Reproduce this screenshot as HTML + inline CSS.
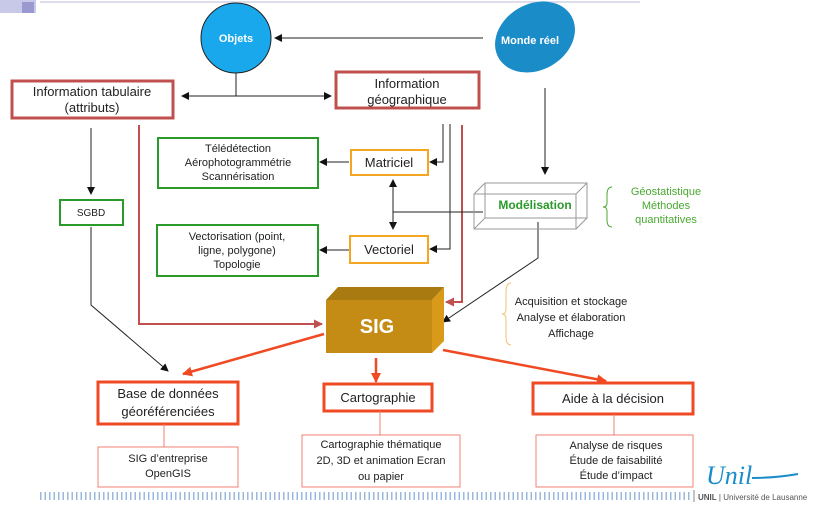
<!DOCTYPE html>
<html><head><meta charset="utf-8"><style>
body{margin:0;background:#fff}
svg{display:block;font-family:"Liberation Sans",sans-serif}
</style></head><body>
<svg width="828" height="512" viewBox="0 0 828 512" xmlns="http://www.w3.org/2000/svg">
<defs>
<marker id="ab" markerWidth="8" markerHeight="8" refX="7" refY="4" orient="auto" markerUnits="userSpaceOnUse"><path d="M0,0 L8,4 L0,8 z" fill="#111"/></marker>
<marker id="ar" markerWidth="9" markerHeight="9" refX="8" refY="4.5" orient="auto" markerUnits="userSpaceOnUse"><path d="M0,0 L9,4.5 L0,9 z" fill="#c0504d"/></marker>
<marker id="ao" markerWidth="10" markerHeight="10" refX="9" refY="5" orient="auto" markerUnits="userSpaceOnUse"><path d="M0,0 L10,5 L0,10 z" fill="#f04a24"/></marker>
</defs>
<rect x="0" y="0" width="36" height="13" fill="#c8c8e8"/><rect x="22" y="2" width="12" height="11" fill="#9a9ad0"/>
<line x1="40" y1="2" x2="640" y2="2" stroke="#dde" stroke-width="2"/>
<circle cx="236" cy="38" r="35" fill="#1aa8ec" stroke="#222" stroke-width="1"/>
<text x="236" y="42" font-size="11" font-weight="bold" fill="#fff" text-anchor="middle">Objets</text>
<ellipse cx="535" cy="37" rx="42" ry="33" fill="#1a8cc8" transform="rotate(-30 535 37)"/>
<text x="530" y="44" font-size="11" font-weight="bold" fill="#fff" text-anchor="middle">Monde réel</text>
<line x1="483" y1="38" x2="275" y2="38" stroke="#222" marker-end="url(#ab)"/>
<line x1="236" y1="73" x2="236" y2="96" stroke="#222"/>
<line x1="236" y1="96" x2="182" y2="96" stroke="#222" marker-end="url(#ab)"/>
<line x1="236" y1="96" x2="331" y2="96" stroke="#222" marker-end="url(#ab)"/>
<line x1="545" y1="88" x2="545" y2="174" stroke="#222" marker-end="url(#ab)"/>
<rect x="12" y="81" width="161" height="37" fill="#fff" stroke="#c0504d" stroke-width="3"/>
<text x="92" y="96" font-size="13" text-anchor="middle" fill="#222">Information tabulaire</text>
<text x="92" y="112" font-size="13" text-anchor="middle" fill="#222">(attributs)</text>
<rect x="336" y="72" width="143" height="36" fill="#fff" stroke="#c0504d" stroke-width="3"/>
<text x="407" y="88" font-size="13" text-anchor="middle" fill="#222">Information</text>
<text x="407" y="104" font-size="13" text-anchor="middle" fill="#222">géographique</text>
<polyline points="139,125 139,324 322,324" fill="none" stroke="#c0504d" stroke-width="2" marker-end="url(#ar)"/>
<polyline points="462,125 462,302 446,302" fill="none" stroke="#c0504d" stroke-width="2" marker-end="url(#ar)"/>
<polyline points="443,124 443,162 430,162" fill="none" stroke="#222" marker-end="url(#ab)"/>
<polyline points="450,124 450,249 430,249" fill="none" stroke="#222" marker-end="url(#ab)"/>
<line x1="91" y1="128" x2="91" y2="194" stroke="#222" marker-end="url(#ab)"/>
<polyline points="91,227 91,305 168,371" fill="none" stroke="#222" marker-end="url(#ab)"/>
<line x1="393" y1="183" x2="393" y2="229" stroke="#222" marker-end="url(#ab)"/>
<line x1="393" y1="229" x2="393" y2="180" stroke="#222" marker-end="url(#ab)"/>
<line x1="393" y1="212" x2="483" y2="212" stroke="#222"/>
<polyline points="538,222 538,258 443,322" fill="none" stroke="#222" marker-end="url(#ab)"/>
<rect x="158" y="138" width="160" height="50" fill="#fff" stroke="#2a9a2a" stroke-width="2"/>
<text x="238" y="152" font-size="11" text-anchor="middle" fill="#222">Télédétection</text>
<text x="238" y="166" font-size="11" text-anchor="middle" fill="#222">Aérophotogrammétrie</text>
<text x="238" y="180" font-size="11" text-anchor="middle" fill="#222">Scannérisation</text>
<rect x="157" y="225" width="161" height="51" fill="#fff" stroke="#2a9a2a" stroke-width="2"/>
<text x="237" y="240" font-size="11" text-anchor="middle" fill="#222">Vectorisation (point,</text>
<text x="237" y="254" font-size="11" text-anchor="middle" fill="#222">ligne, polygone)</text>
<text x="237" y="268" font-size="11" text-anchor="middle" fill="#222">Topologie</text>
<rect x="60" y="200" width="63" height="25" fill="#fff" stroke="#2a9a2a" stroke-width="2"/>
<text x="91" y="216" font-size="10" text-anchor="middle" fill="#222">SGBD</text>
<rect x="351" y="150" width="77" height="25" fill="#fff" stroke="#f4a622" stroke-width="2"/>
<text x="389" y="167" font-size="13" text-anchor="middle" fill="#222">Matriciel</text>
<rect x="350" y="236" width="78" height="27" fill="#fff" stroke="#f4a622" stroke-width="2"/>
<text x="389" y="254" font-size="13" text-anchor="middle" fill="#222">Vectoriel</text>
<line x1="349" y1="162" x2="320" y2="162" stroke="#222" marker-end="url(#ab)"/>
<line x1="349" y1="250" x2="320" y2="250" stroke="#222" marker-end="url(#ab)"/>
<g fill="none" stroke="#999" stroke-width="1">
<rect x="474" y="194" width="102" height="35"/>
<polyline points="474,194 485,183 587,183 587,218 576,229"/>
<line x1="576" y1="194" x2="587" y2="183"/>
<line x1="485" y1="183" x2="485" y2="218"/><line x1="474" y1="229" x2="485" y2="218"/><line x1="485" y1="218" x2="587" y2="218"/>
</g>
<text x="535" y="209" font-size="12" font-weight="bold" text-anchor="middle" fill="#2a9a2a">Modélisation</text>
<path d="M612,187 Q607,187 607,195 L607,203 Q607,207 603,207 Q607,207 607,211 L607,220 Q607,227 612,227" fill="none" stroke="#4aa832"/>
<text x="666" y="195" font-size="11" text-anchor="middle" fill="#4aa832">Géostatistique</text>
<text x="666" y="209" font-size="11" text-anchor="middle" fill="#4aa832">Méthodes</text>
<text x="666" y="223" font-size="11" text-anchor="middle" fill="#4aa832">quantitatives</text>
<polygon points="326,300 338,287 444,287 432,300" fill="#a87a10"/>
<polygon points="432,300 444,287 444,341 432,353" fill="#d89a18"/>
<rect x="326" y="300" width="106" height="53" fill="#c48c14"/>
<text x="377" y="333" font-size="20" font-weight="bold" text-anchor="middle" fill="#fff">SIG</text>
<path d="M511,283 Q506,283 506,292 L506,309 Q506,314 502,314 Q506,314 506,319 L506,337 Q506,345 511,345" fill="none" stroke="#f4c070"/>
<text x="571" y="305" font-size="11" text-anchor="middle" fill="#222">Acquisition et stockage</text>
<text x="571" y="321" font-size="11" text-anchor="middle" fill="#222">Analyse et élaboration</text>
<text x="571" y="337" font-size="11" text-anchor="middle" fill="#222">Affichage</text>
<line x1="324" y1="334" x2="183" y2="374" stroke="#f04a24" stroke-width="2.5" marker-end="url(#ao)"/>
<line x1="376" y1="358" x2="376" y2="382" stroke="#f04a24" stroke-width="2.5" marker-end="url(#ao)"/>
<line x1="443" y1="350" x2="606" y2="381" stroke="#f04a24" stroke-width="2.5" marker-end="url(#ao)"/>
<rect x="98" y="382" width="140" height="42" fill="#fff" stroke="#f04a24" stroke-width="3"/>
<text x="168" y="398" font-size="13" text-anchor="middle" fill="#222">Base de données</text>
<text x="168" y="416" font-size="13" text-anchor="middle" fill="#222">géoréférenciées</text>
<rect x="324" y="384" width="108" height="27" fill="#fff" stroke="#f04a24" stroke-width="3"/>
<text x="378" y="402" font-size="13" text-anchor="middle" fill="#222">Cartographie</text>
<rect x="533" y="383" width="160" height="31" fill="#fff" stroke="#f04a24" stroke-width="3"/>
<text x="613" y="403" font-size="13" text-anchor="middle" fill="#222">Aide à la décision</text>
<line x1="164" y1="424" x2="164" y2="447" stroke="#f08070"/>
<line x1="380" y1="411" x2="380" y2="435" stroke="#f08070"/>
<line x1="614" y1="414" x2="614" y2="435" stroke="#f08070"/>
<rect x="98" y="447" width="140" height="40" fill="#fff" stroke="#f08070"/>
<text x="168" y="462" font-size="11" text-anchor="middle" fill="#222">SIG d’entreprise</text>
<text x="168" y="477" font-size="11" text-anchor="middle" fill="#222">OpenGIS</text>
<rect x="302" y="435" width="158" height="52" fill="#fff" stroke="#f08070"/>
<text x="381" y="448" font-size="11" text-anchor="middle" fill="#222">Cartographie thématique</text>
<text x="381" y="464" font-size="11" text-anchor="middle" fill="#222">2D, 3D et animation  Ecran</text>
<text x="381" y="480" font-size="11" text-anchor="middle" fill="#222">ou papier</text>
<rect x="536" y="435" width="157" height="52" fill="#fff" stroke="#f08070"/>
<text x="616" y="449" font-size="11" text-anchor="middle" fill="#222">Analyse de risques</text>
<text x="616" y="464" font-size="11" text-anchor="middle" fill="#222">Étude de faisabilité</text>
<text x="616" y="479" font-size="11" text-anchor="middle" fill="#222">Étude d’impact</text>
<line x1="40" y1="496" x2="690" y2="496" stroke="#9ab8dc" stroke-width="8" stroke-dasharray="1.5,3"/>
<line x1="694" y1="490" x2="694" y2="502" stroke="#888"/>
<text x="698" y="500" font-size="8" fill="#555"><tspan font-weight="bold">UNIL</tspan> | Université de Lausanne</text>
<text x="706" y="484" font-size="26" font-style="italic" font-family="Liberation Serif,serif" fill="#1a8cc8">Unil</text>
<path d="M752,478 Q775,478 798,474" fill="none" stroke="#1a8cc8" stroke-width="2"/>
</svg>
</body></html>
